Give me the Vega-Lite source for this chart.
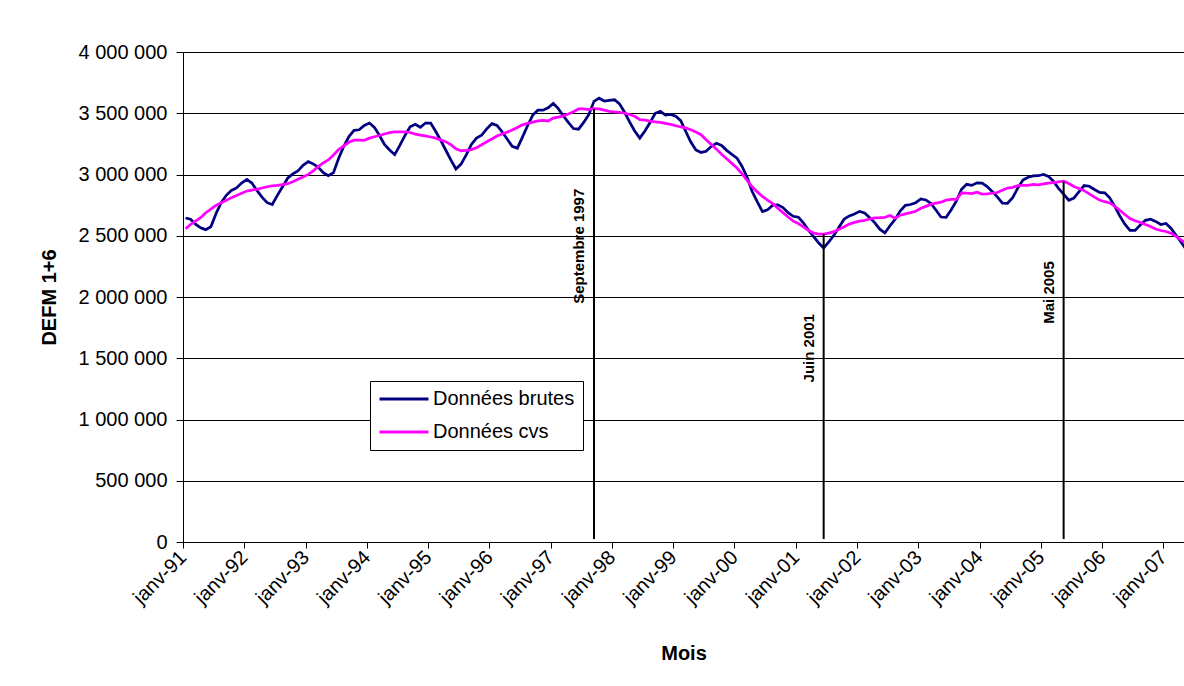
{
"$schema": "https://vega.github.io/schema/vega-lite/v6.json",
"width": 1001,
"height": 490,
"autosize": {"type": "none"},
"padding": {"left": 183, "top": 52, "right": 0, "bottom": 144},
"background": "#ffffff",
"datasets": {
"series": [
{"d":"1991-01-01","brutes":2645000,"cvs":2557000},{"d":"1991-02-01","brutes":2635000,"cvs":2592000},{"d":"1991-03-01","brutes":2595000,"cvs":2619000},{"d":"1991-04-01","brutes":2565000,"cvs":2648000},{"d":"1991-05-01","brutes":2550000,"cvs":2688000},{"d":"1991-06-01","brutes":2573000,"cvs":2717000},{"d":"1991-07-01","brutes":2680000,"cvs":2748000},{"d":"1991-08-01","brutes":2770000,"cvs":2770000},{"d":"1991-09-01","brutes":2830000,"cvs":2789000},{"d":"1991-10-01","brutes":2870000,"cvs":2811000},{"d":"1991-11-01","brutes":2890000,"cvs":2829000},{"d":"1991-12-01","brutes":2930000,"cvs":2847000},
{"d":"1992-01-01","brutes":2960000,"cvs":2865000},{"d":"1992-02-01","brutes":2930000,"cvs":2873000},{"d":"1992-03-01","brutes":2870000,"cvs":2879000},{"d":"1992-04-01","brutes":2815000,"cvs":2890000},{"d":"1992-05-01","brutes":2770000,"cvs":2900000},{"d":"1992-06-01","brutes":2755000,"cvs":2907000},{"d":"1992-07-01","brutes":2830000,"cvs":2911000},{"d":"1992-08-01","brutes":2900000,"cvs":2918000},{"d":"1992-09-01","brutes":2970000,"cvs":2925000},{"d":"1992-10-01","brutes":3005000,"cvs":2940000},{"d":"1992-11-01","brutes":3030000,"cvs":2961000},{"d":"1992-12-01","brutes":3075000,"cvs":2980000},
{"d":"1993-01-01","brutes":3105000,"cvs":3001000},{"d":"1993-02-01","brutes":3087000,"cvs":3030000},{"d":"1993-03-01","brutes":3060000,"cvs":3064000},{"d":"1993-04-01","brutes":3015000,"cvs":3095000},{"d":"1993-05-01","brutes":2990000,"cvs":3119000},{"d":"1993-06-01","brutes":3015000,"cvs":3159000},{"d":"1993-07-01","brutes":3130000,"cvs":3203000},{"d":"1993-08-01","brutes":3230000,"cvs":3234000},{"d":"1993-09-01","brutes":3310000,"cvs":3263000},{"d":"1993-10-01","brutes":3360000,"cvs":3280000},{"d":"1993-11-01","brutes":3365000,"cvs":3280000},{"d":"1993-12-01","brutes":3400000,"cvs":3279000},
{"d":"1994-01-01","brutes":3420000,"cvs":3297000},{"d":"1994-02-01","brutes":3385000,"cvs":3308000},{"d":"1994-03-01","brutes":3320000,"cvs":3318000},{"d":"1994-04-01","brutes":3245000,"cvs":3331000},{"d":"1994-05-01","brutes":3200000,"cvs":3342000},{"d":"1994-06-01","brutes":3162000,"cvs":3347000},{"d":"1994-07-01","brutes":3237000,"cvs":3347000},{"d":"1994-08-01","brutes":3320000,"cvs":3347000},{"d":"1994-09-01","brutes":3390000,"cvs":3343000},{"d":"1994-10-01","brutes":3410000,"cvs":3330000},{"d":"1994-11-01","brutes":3386000,"cvs":3322000},{"d":"1994-12-01","brutes":3420000,"cvs":3315000},
{"d":"1995-01-01","brutes":3420000,"cvs":3306000},{"d":"1995-02-01","brutes":3353000,"cvs":3297000},{"d":"1995-03-01","brutes":3280000,"cvs":3283000},{"d":"1995-04-01","brutes":3200000,"cvs":3268000},{"d":"1995-05-01","brutes":3120000,"cvs":3243000},{"d":"1995-06-01","brutes":3045000,"cvs":3210000},{"d":"1995-07-01","brutes":3085000,"cvs":3194000},{"d":"1995-08-01","brutes":3160000,"cvs":3197000},{"d":"1995-09-01","brutes":3245000,"cvs":3203000},{"d":"1995-10-01","brutes":3297000,"cvs":3218000},{"d":"1995-11-01","brutes":3320000,"cvs":3243000},{"d":"1995-12-01","brutes":3373000,"cvs":3267000},
{"d":"1996-01-01","brutes":3415000,"cvs":3290000},{"d":"1996-02-01","brutes":3400000,"cvs":3314000},{"d":"1996-03-01","brutes":3350000,"cvs":3331000},{"d":"1996-04-01","brutes":3290000,"cvs":3346000},{"d":"1996-05-01","brutes":3230000,"cvs":3363000},{"d":"1996-06-01","brutes":3215000,"cvs":3384000},{"d":"1996-07-01","brutes":3305000,"cvs":3405000},{"d":"1996-08-01","brutes":3400000,"cvs":3418000},{"d":"1996-09-01","brutes":3485000,"cvs":3428000},{"d":"1996-10-01","brutes":3525000,"cvs":3438000},{"d":"1996-11-01","brutes":3525000,"cvs":3441000},{"d":"1996-12-01","brutes":3545000,"cvs":3437000},
{"d":"1997-01-01","brutes":3580000,"cvs":3461000},{"d":"1997-02-01","brutes":3538000,"cvs":3468000},{"d":"1997-03-01","brutes":3480000,"cvs":3479000},{"d":"1997-04-01","brutes":3425000,"cvs":3494000},{"d":"1997-05-01","brutes":3375000,"cvs":3512000},{"d":"1997-06-01","brutes":3370000,"cvs":3535000},{"d":"1997-07-01","brutes":3425000,"cvs":3535000},{"d":"1997-08-01","brutes":3490000,"cvs":3530000},{"d":"1997-09-01","brutes":3597000,"cvs":3537000},{"d":"1997-10-01","brutes":3623000,"cvs":3536000},{"d":"1997-11-01","brutes":3600000,"cvs":3525000},{"d":"1997-12-01","brutes":3605000,"cvs":3516000},
{"d":"1998-01-01","brutes":3610000,"cvs":3511000},{"d":"1998-02-01","brutes":3577000,"cvs":3508000},{"d":"1998-03-01","brutes":3510000,"cvs":3500000},{"d":"1998-04-01","brutes":3430000,"cvs":3490000},{"d":"1998-05-01","brutes":3355000,"cvs":3475000},{"d":"1998-06-01","brutes":3297000,"cvs":3447000},{"d":"1998-07-01","brutes":3355000,"cvs":3443000},{"d":"1998-08-01","brutes":3425000,"cvs":3436000},{"d":"1998-09-01","brutes":3500000,"cvs":3429000},{"d":"1998-10-01","brutes":3515000,"cvs":3426000},{"d":"1998-11-01","brutes":3485000,"cvs":3417000},{"d":"1998-12-01","brutes":3490000,"cvs":3409000},
{"d":"1999-01-01","brutes":3475000,"cvs":3398000},{"d":"1999-02-01","brutes":3440000,"cvs":3388000},{"d":"1999-03-01","brutes":3353000,"cvs":3380000},{"d":"1999-04-01","brutes":3265000,"cvs":3366000},{"d":"1999-05-01","brutes":3200000,"cvs":3347000},{"d":"1999-06-01","brutes":3180000,"cvs":3325000},{"d":"1999-07-01","brutes":3190000,"cvs":3283000},{"d":"1999-08-01","brutes":3230000,"cvs":3245000},{"d":"1999-09-01","brutes":3255000,"cvs":3207000},{"d":"1999-10-01","brutes":3237000,"cvs":3165000},{"d":"1999-11-01","brutes":3197000,"cvs":3128000},{"d":"1999-12-01","brutes":3164000,"cvs":3091000},
{"d":"2000-01-01","brutes":3133000,"cvs":3053000},{"d":"2000-02-01","brutes":3067000,"cvs":3006000},{"d":"2000-03-01","brutes":2977000,"cvs":2951000},{"d":"2000-04-01","brutes":2861000,"cvs":2900000},{"d":"2000-05-01","brutes":2776000,"cvs":2858000},{"d":"2000-06-01","brutes":2697000,"cvs":2821000},{"d":"2000-07-01","brutes":2711000,"cvs":2790000},{"d":"2000-08-01","brutes":2750000,"cvs":2762000},{"d":"2000-09-01","brutes":2752000,"cvs":2724000},{"d":"2000-10-01","brutes":2730000,"cvs":2689000},{"d":"2000-11-01","brutes":2688000,"cvs":2653000},{"d":"2000-12-01","brutes":2659000,"cvs":2619000},
{"d":"2001-01-01","brutes":2651000,"cvs":2600000},{"d":"2001-02-01","brutes":2606000,"cvs":2572000},{"d":"2001-03-01","brutes":2548000,"cvs":2545000},{"d":"2001-04-01","brutes":2494000,"cvs":2523000},{"d":"2001-05-01","brutes":2443000,"cvs":2514000},{"d":"2001-06-01","brutes":2400000,"cvs":2514000},{"d":"2001-07-01","brutes":2449000,"cvs":2521000},{"d":"2001-08-01","brutes":2505000,"cvs":2534000},{"d":"2001-09-01","brutes":2571000,"cvs":2552000},{"d":"2001-10-01","brutes":2636000,"cvs":2574000},{"d":"2001-11-01","brutes":2662000,"cvs":2595000},{"d":"2001-12-01","brutes":2677000,"cvs":2609000},
{"d":"2002-01-01","brutes":2699000,"cvs":2619000},{"d":"2002-02-01","brutes":2686000,"cvs":2625000},{"d":"2002-03-01","brutes":2648000,"cvs":2637000},{"d":"2002-04-01","brutes":2607000,"cvs":2645000},{"d":"2002-05-01","brutes":2554000,"cvs":2647000},{"d":"2002-06-01","brutes":2523000,"cvs":2650000},{"d":"2002-07-01","brutes":2582000,"cvs":2665000},{"d":"2002-08-01","brutes":2635000,"cvs":2643000},{"d":"2002-09-01","brutes":2704000,"cvs":2668000},{"d":"2002-10-01","brutes":2748000,"cvs":2679000},{"d":"2002-11-01","brutes":2755000,"cvs":2689000},{"d":"2002-12-01","brutes":2770000,"cvs":2700000},
{"d":"2003-01-01","brutes":2800000,"cvs":2724000},{"d":"2003-02-01","brutes":2792000,"cvs":2740000},{"d":"2003-03-01","brutes":2765000,"cvs":2756000},{"d":"2003-04-01","brutes":2710000,"cvs":2767000},{"d":"2003-05-01","brutes":2653000,"cvs":2774000},{"d":"2003-06-01","brutes":2650000,"cvs":2791000},{"d":"2003-07-01","brutes":2713000,"cvs":2796000},{"d":"2003-08-01","brutes":2785000,"cvs":2797000},{"d":"2003-09-01","brutes":2880000,"cvs":2850000},{"d":"2003-10-01","brutes":2920000,"cvs":2848000},{"d":"2003-11-01","brutes":2911000,"cvs":2844000},{"d":"2003-12-01","brutes":2932000,"cvs":2856000},
{"d":"2004-01-01","brutes":2930000,"cvs":2840000},{"d":"2004-02-01","brutes":2902000,"cvs":2842000},{"d":"2004-03-01","brutes":2862000,"cvs":2847000},{"d":"2004-04-01","brutes":2818000,"cvs":2853000},{"d":"2004-05-01","brutes":2766000,"cvs":2871000},{"d":"2004-06-01","brutes":2765000,"cvs":2889000},{"d":"2004-07-01","brutes":2810000,"cvs":2895000},{"d":"2004-08-01","brutes":2890000,"cvs":2910000},{"d":"2004-09-01","brutes":2955000,"cvs":2911000},{"d":"2004-10-01","brutes":2978000,"cvs":2911000},{"d":"2004-11-01","brutes":2988000,"cvs":2920000},{"d":"2004-12-01","brutes":2990000,"cvs":2915000},
{"d":"2005-01-01","brutes":3000000,"cvs":2923000},{"d":"2005-02-01","brutes":2985000,"cvs":2930000},{"d":"2005-03-01","brutes":2945000,"cvs":2934000},{"d":"2005-04-01","brutes":2887000,"cvs":2939000},{"d":"2005-05-01","brutes":2840000,"cvs":2945000},{"d":"2005-06-01","brutes":2790000,"cvs":2926000},{"d":"2005-07-01","brutes":2808000,"cvs":2902000},{"d":"2005-08-01","brutes":2860000,"cvs":2885000},{"d":"2005-09-01","brutes":2910000,"cvs":2868000},{"d":"2005-10-01","brutes":2904000,"cvs":2842000},{"d":"2005-11-01","brutes":2878000,"cvs":2815000},{"d":"2005-12-01","brutes":2854000,"cvs":2792000},
{"d":"2006-01-01","brutes":2850000,"cvs":2778000},{"d":"2006-02-01","brutes":2810000,"cvs":2768000},{"d":"2006-03-01","brutes":2742000,"cvs":2742000},{"d":"2006-04-01","brutes":2662000,"cvs":2708000},{"d":"2006-05-01","brutes":2594000,"cvs":2673000},{"d":"2006-06-01","brutes":2544000,"cvs":2640000},{"d":"2006-07-01","brutes":2543000,"cvs":2622000},{"d":"2006-08-01","brutes":2588000,"cvs":2608000},{"d":"2006-09-01","brutes":2626000,"cvs":2592000},{"d":"2006-10-01","brutes":2635000,"cvs":2576000},{"d":"2006-11-01","brutes":2617000,"cvs":2555000},{"d":"2006-12-01","brutes":2592000,"cvs":2543000},
{"d":"2007-01-01","brutes":2600000,"cvs":2535000},{"d":"2007-02-01","brutes":2561000,"cvs":2520000},{"d":"2007-03-01","brutes":2505000,"cvs":2495000},{"d":"2007-04-01","brutes":2449000,"cvs":2466000},{"d":"2007-05-01","brutes":2390000,"cvs":2440000}
],
"events": [
{"d":"1997-09-01","top":3537000,"label":"Septembre 1997"},
{"d":"2001-06-01","top":2514000,"label":"Juin 2001"},
{"d":"2005-05-01","top":2945000,"label":"Mai 2005"}
]
},
"layer": [
{
"data": {"name": "series"},
"transform": [{"fold": ["brutes", "cvs"], "as": ["serie", "valeur"]}],
"mark": {"type": "line", "strokeWidth": 2.75, "clip": true},
"encoding": {
"x": {"field": "d", "type": "temporal", "timeUnit": "utcyearmonth", "bandPosition": 0.5, "title": "Mois",
"scale": {"domain": [{"year": 1991, "month": 1, "date": 1, "utc": true}, {"year": 2007, "month": 5, "date": 4, "utc": true}], "nice": false},
"axis": {"values": [{"year":1991,"month":1,"date":1,"utc":true},{"year":1992,"month":1,"date":1,"utc":true},{"year":1993,"month":1,"date":1,"utc":true},{"year":1994,"month":1,"date":1,"utc":true},{"year":1995,"month":1,"date":1,"utc":true},{"year":1996,"month":1,"date":1,"utc":true},{"year":1997,"month":1,"date":1,"utc":true},{"year":1998,"month":1,"date":1,"utc":true},{"year":1999,"month":1,"date":1,"utc":true},{"year":2000,"month":1,"date":1,"utc":true},{"year":2001,"month":1,"date":1,"utc":true},{"year":2002,"month":1,"date":1,"utc":true},{"year":2003,"month":1,"date":1,"utc":true},{"year":2004,"month":1,"date":1,"utc":true},{"year":2005,"month":1,"date":1,"utc":true},{"year":2006,"month":1,"date":1,"utc":true},{"year":2007,"month":1,"date":1,"utc":true}],
"labelExpr": "'janv-' + utcFormat(datum.value, '%y')", "grid": false, "tickSize": 6, "labelAngle": -45, "labelAlign": "right", "labelBaseline": "middle", "labelPadding": 6, "titlePadding": 36, "labelOverlap": false, "labelFlush": false}},
"y": {"field": "valeur", "type": "quantitative", "title": "DEFM 1+6",
"scale": {"domain": [0, 4000000], "nice": false},
"axis": {"values": [0, 500000, 1000000, 1500000, 2000000, 2500000, 3000000, 3500000, 4000000], "labelExpr": "replace(format(datum.value, ','), regexp(',', 'g'), ' ')", "grid": true, "tickSize": 7, "labelPadding": 9, "titlePadding": 19}},
"color": {"field": "serie", "type": "nominal",
"scale": {"domain": ["brutes", "cvs"], "range": ["#000080", "#FF00FF"]},
"legend": {"title": null, "orient": "none", "legendX": 187, "legendY": 329, "direction": "vertical", "symbolType": "stroke", "symbolSize": 2401, "symbolStrokeWidth": 3, "clipHeight": 20, "labelFontSize": 20, "labelFont": "Liberation Sans", "labelColor": "#000000", "strokeColor": "#000000", "fillColor": "#ffffff", "padding": 8, "rowPadding": 13, "labelOffset": 3, "symbolOffset": 0,
"labelExpr": "datum.label == 'brutes' ? 'Données brutes' : 'Données cvs'"}}
}
},
{
"data": {"name": "events"},
"mark": {"type": "rule", "color": "#000000", "strokeWidth": 2},
"encoding": {
"x": {"field": "d", "type": "temporal", "timeUnit": "utcyearmonth", "bandPosition": 0.5, "title": "Mois"},
"y": {"field": "top", "type": "quantitative", "title": "DEFM 1+6"},
"y2": {"datum": 25000}
}
},
{
"data": {"name": "events"},
"mark": {"type": "text", "angle": 270, "align": "right", "baseline": "alphabetic", "dx": -80, "dy": -10, "font": "Liberation Sans", "fontSize": 15, "fontWeight": "bold", "color": "#000000"},
"encoding": {
"x": {"field": "d", "type": "temporal", "timeUnit": "utcyearmonth", "bandPosition": 0.5, "title": "Mois"},
"y": {"field": "top", "type": "quantitative", "title": "DEFM 1+6"},
"text": {"field": "label", "type": "nominal"}
}
}
],
"config": {
"font": "Liberation Sans",
"view": {"stroke": null},
"axis": {"domainColor": "#000000", "tickColor": "#000000", "labelColor": "#000000", "titleColor": "#000000", "labelFont": "Liberation Sans", "titleFont": "Liberation Sans", "labelFontSize": 20, "titleFontSize": 20, "titleFontWeight": "bold", "gridColor": "#000000", "gridOpacity": 1, "gridWidth": 1, "domainWidth": 1, "tickWidth": 1}
}
}
